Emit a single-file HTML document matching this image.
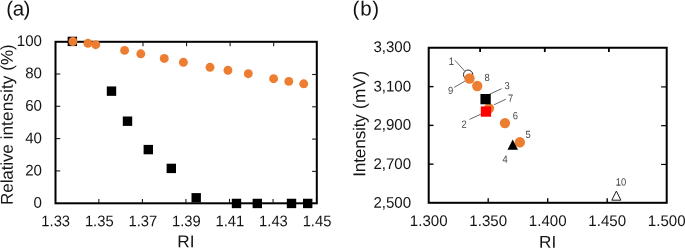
<!DOCTYPE html>
<html><head><meta charset="utf-8"><title>figure</title>
<style>
html,body{margin:0;padding:0;background:#fff;}
body{width:685px;height:248px;overflow:hidden;position:relative;}
svg{position:absolute;left:0;top:0;display:block;will-change:transform;}
text{font-family:"Liberation Sans",sans-serif;}
</style></head><body>
<svg width="685" height="248" viewBox="0 0 685 248">
<rect x="0" y="0" width="685" height="248" fill="#ffffff"/>
<text transform="translate(6.3,15.4) rotate(0.03)" font-size="20.5" letter-spacing="-0.5" fill="#111">(a)</text>
<text transform="translate(352.6,15.4) rotate(0.03)" font-size="20.5" letter-spacing="0.75" fill="#111">(b)</text>
<rect x="55.5" y="41.8" width="261.30" height="161.50" fill="none" stroke="#000" stroke-width="2.0"/>
<text transform="translate(55.70,226.2) rotate(0.03) scale(0.96,1)" font-size="15.4" fill="#141414" text-anchor="middle">1.33</text>
<line x1="98.85" y1="203.3" x2="98.85" y2="198.9" stroke="#1a1a1a" stroke-width="1.1"/>
<line x1="99.45" y1="41.8" x2="99.45" y2="46.199999999999996" stroke="#1a1a1a" stroke-width="1.1"/>
<text transform="translate(99.25,226.2) rotate(0.03) scale(0.96,1)" font-size="15.4" fill="#141414" text-anchor="middle">1.35</text>
<line x1="142.40" y1="203.3" x2="142.40" y2="198.9" stroke="#1a1a1a" stroke-width="1.1"/>
<line x1="143.00" y1="41.8" x2="143.00" y2="46.199999999999996" stroke="#1a1a1a" stroke-width="1.1"/>
<text transform="translate(142.80,226.2) rotate(0.03) scale(0.96,1)" font-size="15.4" fill="#141414" text-anchor="middle">1.37</text>
<line x1="185.95" y1="203.3" x2="185.95" y2="198.9" stroke="#1a1a1a" stroke-width="1.1"/>
<line x1="186.55" y1="41.8" x2="186.55" y2="46.199999999999996" stroke="#1a1a1a" stroke-width="1.1"/>
<text transform="translate(186.35,226.2) rotate(0.03) scale(0.96,1)" font-size="15.4" fill="#141414" text-anchor="middle">1.39</text>
<line x1="229.50" y1="203.3" x2="229.50" y2="198.9" stroke="#1a1a1a" stroke-width="1.1"/>
<line x1="230.10" y1="41.8" x2="230.10" y2="46.199999999999996" stroke="#1a1a1a" stroke-width="1.1"/>
<text transform="translate(229.90,226.2) rotate(0.03) scale(0.96,1)" font-size="15.4" fill="#141414" text-anchor="middle">1.41</text>
<line x1="273.05" y1="203.3" x2="273.05" y2="198.9" stroke="#1a1a1a" stroke-width="1.1"/>
<line x1="273.65" y1="41.8" x2="273.65" y2="46.199999999999996" stroke="#1a1a1a" stroke-width="1.1"/>
<text transform="translate(273.45,226.2) rotate(0.03) scale(0.96,1)" font-size="15.4" fill="#141414" text-anchor="middle">1.43</text>
<text transform="translate(317.00,226.2) rotate(0.03) scale(0.96,1)" font-size="15.4" fill="#141414" text-anchor="middle">1.45</text>
<text transform="translate(42.0,45.90) rotate(0.03) scale(0.98,1)" font-size="15.4" fill="#141414" text-anchor="end">100</text>
<line x1="55.5" y1="74.00" x2="60.2" y2="74.00" stroke="#1a1a1a" stroke-width="1.1"/>
<line x1="316.8" y1="74.50" x2="312.1" y2="74.50" stroke="#1a1a1a" stroke-width="1.1"/>
<text transform="translate(42.0,78.20) rotate(0.03) scale(0.98,1)" font-size="15.4" fill="#141414" text-anchor="end">80</text>
<line x1="55.5" y1="106.30" x2="60.2" y2="106.30" stroke="#1a1a1a" stroke-width="1.1"/>
<line x1="316.8" y1="106.80" x2="312.1" y2="106.80" stroke="#1a1a1a" stroke-width="1.1"/>
<text transform="translate(42.0,110.85) rotate(0.03) scale(0.98,1)" font-size="15.4" fill="#141414" text-anchor="end">60</text>
<line x1="55.5" y1="138.60" x2="60.2" y2="138.60" stroke="#1a1a1a" stroke-width="1.1"/>
<line x1="316.8" y1="139.10" x2="312.1" y2="139.10" stroke="#1a1a1a" stroke-width="1.1"/>
<text transform="translate(42.0,143.30) rotate(0.03) scale(0.98,1)" font-size="15.4" fill="#141414" text-anchor="end">40</text>
<line x1="55.5" y1="170.90" x2="60.2" y2="170.90" stroke="#1a1a1a" stroke-width="1.1"/>
<line x1="316.8" y1="171.40" x2="312.1" y2="171.40" stroke="#1a1a1a" stroke-width="1.1"/>
<text transform="translate(42.0,175.50) rotate(0.03) scale(0.98,1)" font-size="15.4" fill="#141414" text-anchor="end">20</text>
<text transform="translate(42.0,207.85) rotate(0.03) scale(0.98,1)" font-size="15.4" fill="#141414" text-anchor="end">0</text>
<text transform="translate(185.9,247.2) rotate(0.03)" font-size="17.2" fill="#141414" text-anchor="middle">RI</text>
<text transform="translate(12.8,124.55) rotate(-90.03)" font-size="17.1" fill="#141414" text-anchor="middle"><tspan letter-spacing="-0.15">Relative</tspan><tspan letter-spacing="0.14"> intensity</tspan><tspan> (%)</tspan></text>
<rect x="67.65" y="36.70" width="9.4" height="9.4" fill="#000"/>
<rect x="106.80" y="86.45" width="9.4" height="9.4" fill="#000"/>
<rect x="122.80" y="116.50" width="9.4" height="9.4" fill="#000"/>
<rect x="143.60" y="144.90" width="9.4" height="9.4" fill="#000"/>
<rect x="166.60" y="163.70" width="9.4" height="9.4" fill="#000"/>
<rect x="191.50" y="193.10" width="9.4" height="9.4" fill="#000"/>
<rect x="231.80" y="198.75" width="9.4" height="9.4" fill="#000"/>
<rect x="252.60" y="198.75" width="9.4" height="9.4" fill="#000"/>
<rect x="286.80" y="198.75" width="9.4" height="9.4" fill="#000"/>
<rect x="303.00" y="198.75" width="9.4" height="9.4" fill="#000"/>
<circle cx="72.9" cy="41.5" r="4.45" fill="#ED7D31"/>
<circle cx="87.9" cy="43.3" r="4.45" fill="#ED7D31"/>
<circle cx="95.7" cy="44.7" r="4.45" fill="#ED7D31"/>
<circle cx="124.6" cy="50.4" r="4.45" fill="#ED7D31"/>
<circle cx="140.8" cy="53.8" r="4.45" fill="#ED7D31"/>
<circle cx="164.25" cy="58.45" r="4.45" fill="#ED7D31"/>
<circle cx="183.4" cy="62.3" r="4.45" fill="#ED7D31"/>
<circle cx="210.0" cy="67.3" r="4.45" fill="#ED7D31"/>
<circle cx="227.95" cy="70.3" r="4.45" fill="#ED7D31"/>
<circle cx="248.3" cy="73.7" r="4.45" fill="#ED7D31"/>
<circle cx="273.6" cy="78.7" r="4.45" fill="#ED7D31"/>
<circle cx="288.8" cy="81.4" r="4.45" fill="#ED7D31"/>
<circle cx="303.7" cy="83.8" r="4.45" fill="#ED7D31"/>
<rect x="428.7" y="47.75" width="238.00" height="155.05" fill="none" stroke="#000" stroke-width="2.0"/>
<text transform="translate(428.70,225.9) rotate(0.03) scale(0.98,1)" font-size="15.4" fill="#141414" text-anchor="middle">1.300</text>
<line x1="488.20" y1="202.8" x2="488.20" y2="198.20000000000002" stroke="#000" stroke-width="1.4"/>
<line x1="480.10" y1="47.75" x2="480.10" y2="52.05" stroke="#000" stroke-width="1.8"/>
<text transform="translate(488.20,225.9) rotate(0.03) scale(0.98,1)" font-size="15.4" fill="#141414" text-anchor="middle">1.350</text>
<line x1="547.70" y1="202.8" x2="547.70" y2="198.20000000000002" stroke="#000" stroke-width="1.4"/>
<line x1="544.80" y1="47.75" x2="544.80" y2="52.05" stroke="#000" stroke-width="1.8"/>
<text transform="translate(547.70,225.9) rotate(0.03) scale(0.98,1)" font-size="15.4" fill="#141414" text-anchor="middle">1.400</text>
<line x1="607.20" y1="202.8" x2="607.20" y2="198.20000000000002" stroke="#000" stroke-width="1.4"/>
<line x1="608.90" y1="47.75" x2="608.90" y2="52.05" stroke="#000" stroke-width="1.8"/>
<text transform="translate(607.20,225.9) rotate(0.03) scale(0.98,1)" font-size="15.4" fill="#141414" text-anchor="middle">1.450</text>
<text transform="translate(666.70,225.9) rotate(0.03) scale(0.98,1)" font-size="15.4" fill="#141414" text-anchor="middle">1.500</text>
<text transform="translate(411.15,52.05) rotate(0.03) scale(0.98,1)" font-size="15.4" fill="#141414" text-anchor="end">3,300</text>
<line x1="428.7" y1="86.61" x2="433.5" y2="86.61" stroke="#000" stroke-width="1.4"/>
<line x1="666.7" y1="86.91" x2="661.1" y2="86.91" stroke="#000" stroke-width="1.2"/>
<text transform="translate(411.15,91.41) rotate(0.03) scale(0.98,1)" font-size="15.4" fill="#141414" text-anchor="end">3,100</text>
<line x1="428.7" y1="125.38" x2="433.5" y2="125.38" stroke="#000" stroke-width="1.4"/>
<line x1="666.7" y1="125.68" x2="661.1" y2="125.68" stroke="#000" stroke-width="1.2"/>
<text transform="translate(411.15,129.78) rotate(0.03) scale(0.98,1)" font-size="15.4" fill="#141414" text-anchor="end">2,900</text>
<line x1="428.7" y1="164.14" x2="433.5" y2="164.14" stroke="#000" stroke-width="1.4"/>
<line x1="666.7" y1="164.44" x2="661.1" y2="164.44" stroke="#000" stroke-width="1.2"/>
<text transform="translate(411.15,168.94) rotate(0.03) scale(0.98,1)" font-size="15.4" fill="#141414" text-anchor="end">2,700</text>
<text transform="translate(411.15,207.70) rotate(0.03) scale(0.98,1)" font-size="15.4" fill="#141414" text-anchor="end">2,500</text>
<text transform="translate(547.7,247.7) rotate(0.03)" font-size="17.2" fill="#141414" text-anchor="middle">RI</text>
<text transform="translate(365.2,123.75) rotate(-90.03)" font-size="17.2" fill="#141414" text-anchor="middle"><tspan letter-spacing="-0.15">Intensity</tspan><tspan letter-spacing="0.3"> (mV)</tspan></text>
<line x1="454.9" y1="60.3" x2="464.8" y2="71.2" stroke="#404040" stroke-width="0.8"/>
<line x1="454.2" y1="87.4" x2="465.0" y2="81.1" stroke="#404040" stroke-width="0.8"/>
<line x1="501.6" y1="88.7" x2="489.2" y2="94.4" stroke="#404040" stroke-width="0.8"/>
<line x1="505.9" y1="99.2" x2="494.0" y2="104.8" stroke="#404040" stroke-width="0.8"/>
<line x1="469.5" y1="119.4" x2="480.8" y2="114.2" stroke="#404040" stroke-width="0.8"/>
<circle cx="468.1" cy="74.65" r="4.6" fill="#fff" stroke="#222" stroke-width="1"/>
<circle cx="469.5" cy="78.5" r="5.15" fill="#ED7D31"/>
<circle cx="477.25" cy="86.0" r="5.15" fill="#ED7D31"/>
<circle cx="489.0" cy="108.3" r="5.15" fill="#ED7D31"/>
<circle cx="504.95" cy="123.1" r="5.15" fill="#ED7D31"/>
<circle cx="519.85" cy="142.25" r="5.15" fill="#ED7D31"/>
<rect x="480.45" y="94.00" width="10.3" height="10.3" fill="#000"/>
<rect x="480.80" y="106.40" width="10.3" height="10.3" fill="#FF0000"/>
<polygon points="512.7,139.6 518.0,149.65 507.5,149.65" fill="#000"/>
<polygon points="616.35,191.1 620.9,200.2 611.8,200.2" fill="#fff" stroke="#1a1a1a" stroke-width="1"/>
<text transform="translate(451.3,64.70) rotate(0.03) scale(0.9,1)" font-size="10.4" fill="#464646" text-anchor="middle">1</text>
<line x1="449.40" y1="64.40" x2="453.40" y2="64.40" stroke="#464646" stroke-width="0.7"/>
<text transform="translate(487.0,81.10) rotate(0.03) scale(0.9,1)" font-size="10.4" fill="#464646" text-anchor="middle">8</text>
<text transform="translate(507.1,89.30) rotate(0.03) scale(0.9,1)" font-size="10.4" fill="#464646" text-anchor="middle">3</text>
<text transform="translate(450.6,93.90) rotate(0.03) scale(0.9,1)" font-size="10.4" fill="#464646" text-anchor="middle">9</text>
<text transform="translate(510.7,101.70) rotate(0.03) scale(0.9,1)" font-size="10.4" fill="#464646" text-anchor="middle">7</text>
<text transform="translate(515.4,119.20) rotate(0.03) scale(0.9,1)" font-size="10.4" fill="#464646" text-anchor="middle">6</text>
<text transform="translate(464.2,127.70) rotate(0.03) scale(0.9,1)" font-size="10.4" fill="#464646" text-anchor="middle">2</text>
<text transform="translate(528.0,138.00) rotate(0.03) scale(0.9,1)" font-size="10.4" fill="#464646" text-anchor="middle">5</text>
<text transform="translate(505.2,162.80) rotate(0.03) scale(0.9,1)" font-size="10.4" fill="#464646" text-anchor="middle">4</text>
<text transform="translate(621.0,185.50) rotate(0.03) scale(0.9,1)" font-size="10.4" fill="#464646" text-anchor="middle">10</text>
<line x1="616.50" y1="185.20" x2="620.50" y2="185.20" stroke="#464646" stroke-width="0.7"/>
</svg>
</body></html>
